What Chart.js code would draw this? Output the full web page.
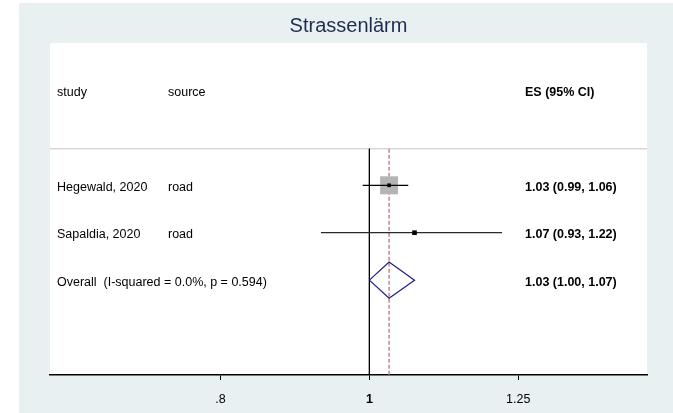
<!DOCTYPE html>
<html>
<head>
<meta charset="utf-8">
<script src="https://cdn.jsdelivr.net/npm/chart.js@4.4.1/dist/chart.umd.min.js"></script>
<style>
  html, body { margin: 0; padding: 0; background: #ffffff; }
  canvas { display: block; }
</style>
</head>
<body>
<canvas id="forest" width="673" height="413"></canvas>
<script>
// Study-level estimates (effect size with 95% CI) and their pooled estimate
const studies = ['Hegewald, 2020', 'Sapaldia, 2020'];
const sources = ['road', 'road'];
const es = [1.03, 1.07];
const ciLow = [0.99, 0.93];
const ciHigh = [1.06, 1.22];
const weights = [94.1, 5.9];

const overallLabel = 'Overall  (I-squared = 0.0%, p = 0.594)';
const overallEs = 1.03;
const overallLow = 1.00;
const overallHigh = 1.07;

const headers = ['study', 'source', 'ES (95% CI)'];
const xTicks = [0.8, 1, 1.25];
const xTickLabels = ['.8', '1', '1.25'];

// Row positions on the (reversed) y scale
const headerRow = 0;
const studyRows = [2, 3];
const overallRow = 4;
const separatorRow = 1.23;
const yMin = -1, yMax = 6;
const xMin = 0.6196, xMax = 1.516;

const FONT = "'Liberation Sans', Arial, Helvetica, sans-serif";
const fmt = v => v.toFixed(2);
const ciText = (e, l, h) => `${fmt(e)} (${fmt(l)}, ${fmt(h)})`;

const datasets = [];

// header separator
datasets.push({
  order: 10,
  data: [{ x: xMin, y: separatorRow }, { x: xMax, y: separatorRow }],
  showLine: true, pointRadius: 0, borderColor: '#d8d8d8', borderWidth: 1.5
});
// line of no effect
datasets.push({
  order: 9,
  data: [{ x: 1, y: separatorRow }, { x: 1, y: yMax }],
  showLine: true, pointRadius: 0, borderColor: '#000000', borderWidth: 1
});
// pooled estimate reference line
datasets.push({
  order: 8,
  data: [{ x: overallEs, y: separatorRow }, { x: overallEs, y: yMax }],
  showLine: true, pointRadius: 0, borderColor: '#c08a92', borderWidth: 1.5,
  borderDash: [4, 2]
});
// weight boxes
datasets.push({
  order: 7,
  data: es.map((v, i) => ({ x: v, y: studyRows[i] })),
  showLine: false, pointStyle: 'rect',
  pointRadius: es.map((v, i) => 12.7 * Math.sqrt(weights[i] / weights[0])),
  backgroundColor: '#b4b4b4', borderWidth: 0
});
// confidence intervals
es.forEach((v, i) => {
  datasets.push({
    order: 6,
    data: [{ x: ciLow[i], y: studyRows[i] }, { x: ciHigh[i], y: studyRows[i] }],
    showLine: true, pointRadius: 0, borderColor: i === 0 ? '#000000' : '#2a2a2a', borderWidth: 1.3
  });
});
// point estimates
datasets.push({
  order: 5,
  data: es.map((v, i) => ({ x: v, y: studyRows[i] })),
  showLine: false, pointStyle: 'rect', pointRadius: [2.6, 3.2],
  backgroundColor: '#000000', borderWidth: 0
});
// pooled diamond
const dh = 0.38;
datasets.push({
  order: 4,
  data: [
    { x: overallLow, y: overallRow },
    { x: overallEs, y: overallRow - dh },
    { x: overallHigh, y: overallRow },
    { x: overallEs, y: overallRow + dh },
    { x: overallLow, y: overallRow }
  ],
  showLine: true, pointRadius: 0, borderColor: '#1a1a80', borderWidth: 1.2,
  fill: false, tension: 0
});

const panelPlugin = {
  id: 'panel',
  beforeDraw(chart) {
    const { ctx, chartArea: a } = chart;
    ctx.save();
    ctx.fillStyle = '#e8f0f2';
    ctx.fillRect(19, 3, chart.width - 19, chart.height - 3);
    ctx.fillStyle = '#ffffff';
    ctx.fillRect(a.left, a.top, a.right - a.left, a.bottom - a.top);
    ctx.restore();
  }
};

const textPlugin = {
  id: 'columns',
  afterDatasetsDraw(chart) {
    const { ctx, chartArea: a, scales } = chart;
    const y = scales.y;
    const rowPx = v => y.getPixelForValue(v) + 2;
    const colStudy = a.left + 7, colSource = a.left + 118, colEs = a.left + 475;
    ctx.save();
    ctx.fillStyle = '#000000';
    ctx.textBaseline = 'middle';
    ctx.textAlign = 'left';
    const normal = `12.5px ${FONT}`, bold = `bold 12.5px ${FONT}`;

    ctx.font = normal;
    ctx.fillText(headers[0], colStudy, rowPx(headerRow));
    ctx.fillText(headers[1], colSource, rowPx(headerRow));
    ctx.font = bold;
    ctx.fillText(headers[2], colEs, rowPx(headerRow));

    studies.forEach((s, i) => {
      const py = rowPx(studyRows[i]);
      ctx.font = normal;
      ctx.fillText(s, colStudy, py);
      ctx.fillText(sources[i], colSource, py);
      ctx.font = bold;
      ctx.fillText(ciText(es[i], ciLow[i], ciHigh[i]), colEs, py);
    });

    const po = rowPx(overallRow);
    ctx.font = normal;
    ctx.fillText(overallLabel, colStudy, po);
    ctx.font = bold;
    ctx.fillText(ciText(overallEs, overallLow, overallHigh), colEs, po);
    ctx.restore();
  }
};

new Chart(document.getElementById('forest'), {
  type: 'scatter',
  data: { datasets },
  options: {
    responsive: false,
    devicePixelRatio: 1,
    animation: false,
    layout: { padding: { left: 50, right: 26, top: 0, bottom: 0 } },
    plugins: {
      legend: { display: false },
      tooltip: { enabled: false },
      title: {
        display: true,
        text: 'Strassenlärm',
        color: '#1f2c50',
        font: { family: FONT, size: 20, weight: 'normal' },
        padding: { top: 14, bottom: 5 }
      }
    },
    scales: {
      x: {
        type: 'logarithmic',
        min: xMin,
        max: xMax,
        afterBuildTicks: s => {
          s.ticks = xTicks.map(v => ({ value: v }));
          s.min = xMin;
          s.max = xMax;
        },
        afterFit: s => { s.height = 38; },
        border: { display: true, color: '#000000', width: 1.4 },
        grid: { display: true, drawOnChartArea: false, drawTicks: true, tickLength: 5, color: '#000000' },
        ticks: {
          autoSkip: false,
          maxRotation: 0,
          padding: 12,
          color: '#000000',
          font: ctx => ({ family: FONT, size: 12.5, weight: ctx.tick && ctx.tick.value === 1 ? 'bold' : 'normal' }),
          callback: (v) => {
            const i = xTicks.indexOf(v);
            return i >= 0 ? xTickLabels[i] : '';
          }
        }
      },
      y: {
        type: 'linear',
        reverse: true,
        min: yMin,
        max: yMax,
        display: false
      }
    }
  },
  plugins: [panelPlugin, textPlugin]
});
</script>
</body>
</html>
